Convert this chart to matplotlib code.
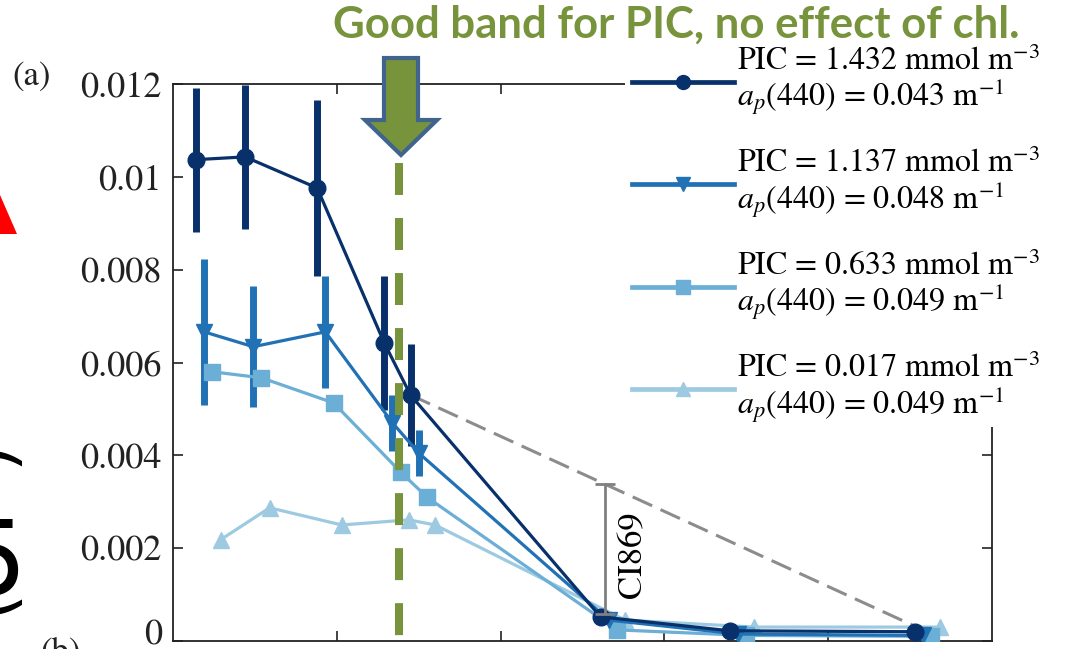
import numpy as np
import matplotlib
matplotlib.use("Agg")
import matplotlib.pyplot as plt
import matplotlib.transforms as mtransforms
from matplotlib.lines import Line2D
from matplotlib.patches import Polygon, Rectangle

W, H = 1067, 649

bands = [414, 444, 488, 529, 545, 661, 740, 853]
dodge = [0, 5, 10, 15]

pic_labels = ["1.432", "1.137", "0.633", "0.017"]
ap440 = ["0.043", "0.048", "0.049", "0.049"]

bb_1432 = [0.01037, 0.01043, 0.00976, 0.00642, 0.00530, 0.00052, 0.00022, 0.00020]
err_1432 = [0.00155, 0.00155, 0.00190, 0.00145, 0.00110, 0, 0, 0]
bb_1137 = [0.00666, 0.00634, 0.00666, 0.00470, 0.00405, 0.00045, 0.00015, 0.00012]
err_1137 = [0.00157, 0.00130, 0.00120, 0.00060, 0.00050, 0, 0, 0]
bb_0633 = [0.00580, 0.00567, 0.00513, 0.00364, 0.00310, 0.00024, 0.00012, 0.00010]
bb_0017 = [0.00218, 0.00287, 0.00250, 0.00261, 0.00250, 0.00045, 0.00030, 0.00030]

# baseline used for the 869 colour index
ci_base_x = [545, 867]
ci_base_y = [0.00530, 0.00009]
ci_x = 664
ci_low = 0.00058

good_band = 538
good_top = 0.0103

yticks = [0, 0.002, 0.004, 0.006, 0.008, 0.01, 0.012]
ytick_labels = ["0", "0.002", "0.004", "0.006", "0.008", "0.01", "0.012"]
xticks = [500, 600, 700, 800]

colors = ["#08306B", "#2171B5", "#6BAED6", "#9ECAE1"]
markers = ["o", "v", "s", "^"]
msizes = [12, 12, 12, 12]

plt.rcParams["mathtext.fontset"] = "stix"
serif = "STIXGeneral"
olive = "#77933C"


def px(x, y):
    return (x / W, 1 - y / H)


fig = plt.figure(figsize=(W / 100, H / 100), dpi=100)
ax = fig.add_axes([173 / W, (H - 641) / H, 819 / W, 557 / H])

series = [(bb_0017, None), (bb_0633, None), (bb_1137, err_1137), (bb_1432, err_1432)]
order = [3, 2, 1, 0]
for (vals, errs), i in zip(series, order):
    xs = np.array(bands) + dodge[i]
    if errs is not None:
        ax.errorbar(xs, vals, yerr=errs, fmt="none", ecolor=colors[i],
                    elinewidth=5, capsize=0, zorder=2 + i * 0.1)
    ax.plot(xs, vals, "-", color=colors[i], lw=2.3, marker=markers[i],
            ms=msizes[i], mec=colors[i], mfc=colors[i], zorder=3 + (3 - i))

# colour-index baseline and the CI869 height
ax.plot(ci_base_x, ci_base_y, color="#8c8c8c", lw=2.2,
        linestyle=(0, (7, 3)), zorder=2)
ci_top = np.interp(ci_x, ci_base_x, ci_base_y)
ax.errorbar([ci_x], [(ci_top + ci_low) / 2], yerr=[(ci_top - ci_low) / 2],
            fmt="none", ecolor="#808080", elinewidth=2, capsize=7,
            capthick=2, zorder=8)
ax.text(ci_x + 17, 0.00185, "CI869", rotation=90, ha="center", va="center",
        fontsize=25, family=serif, color="black")

# good band marker
ax.plot([good_band, good_band], [good_top, 0], color=olive, lw=5.8,
        linestyle=(0, (3.97, 2.86)), solid_capstyle="butt",
        dash_capstyle="butt", zorder=10)

ax.set_xlim(400, 900)
ax.set_ylim(0, 0.012)
ax.set_xticks(xticks)
ax.set_yticks(yticks)
ax.set_yticklabels(ytick_labels, family=serif)
ax.tick_params(direction="in", length=7, width=1.2, top=True, right=True,
               labelbottom=False, labelsize=26, pad=8, colors="#222222",
               labelcolor="#222222")
for s in ax.spines.values():
    s.set_linewidth(1.3)
    s.set_color("#222222")
# the zero label sits a little above its tick
zero_lbl = ax.get_yticklabels()[0]
zero_lbl.set_transform(zero_lbl.get_transform() +
                       mtransforms.ScaledTranslation(0, 9 / 100, fig.dpi_scale_trans))

# white box behind the legend hides the upper right frame
fig.add_artist(Rectangle(px(625, 427), 442 / W, 377 / H,
                         transform=fig.transFigure, facecolor="white",
                         edgecolor="none", zorder=2))

handles = [Line2D([], [], color=c, lw=3.4, marker=m, ms=10, mec=c, mfc=c)
           for c, m in zip(colors, markers)]
labels = [f"PIC = {p} mmol m$^{{-3}}$\n$a_p$(440) = {a} m$^{{-1}}$"
          for p, a in zip(pic_labels, ap440)]
leg = fig.legend(handles, labels, loc="upper left",
                 bbox_to_anchor=px(632, 46), frameon=False,
                 prop={"family": serif, "size": 23}, handlelength=3.2,
                 handletextpad=0.1, labelspacing=0.98, borderpad=0,
                 borderaxespad=0)
for t in leg.get_texts():
    t.set_linespacing(1.0)
leg.set_zorder(6)

# arrow pointing at the good band
sx0, sx1, cx = 384, 418, 401
arrow = [px(sx0, 58), px(sx1, 58), px(sx1, 120), px(437, 120), px(cx, 155),
         px(365, 120), px(sx0, 120)]
fig.add_artist(Polygon(arrow, closed=True, transform=fig.transFigure,
                       facecolor=olive, edgecolor="#41648F", lw=3,
                       joinstyle="miter", zorder=7))

fig.text(*px(676, 25), "Good band for PIC, no effect of chl.", ha="center",
         va="center", fontsize=31.5, fontweight="bold", family="Lato",
         color=olive)

fig.text(*px(12, 77), "(a)", ha="left", va="center", fontsize=25,
         family=serif, color="#222222")
fig.text(*px(40, 637), "(b)", ha="left", va="top", fontsize=25,
         family=serif, color="#222222")

# slide remnants at the left edge
fig.add_artist(Polygon([px(0, 195), px(17, 234), px(0, 234)], closed=True,
                       transform=fig.transFigure, facecolor="#FF0000",
                       edgecolor="none"))
fig.text(*px(27, 595), "5", ha="right", va="baseline", fontsize=75,
         family="DejaVu Sans", color="black")
fig.text(*px(22, 452), ")", rotation=90, ha="right", va="center",
         fontsize=50, family="DejaVu Sans", color="black")
fig.text(*px(22, 600), "(", rotation=90, ha="right", va="center",
         fontsize=50, family="DejaVu Sans", color="black")

fig.savefig("out.png", dpi=100)
